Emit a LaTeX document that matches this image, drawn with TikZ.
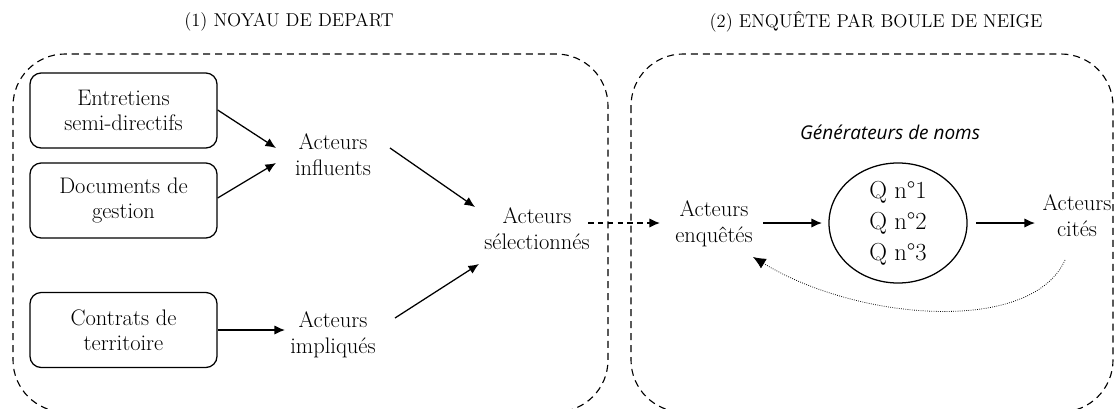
\documentclass[tikz,border=0pt]{standalone}
\usepackage{fontspec}
\newfontfamily\gensans{Open Sans}
\usetikzlibrary{arrows.meta,shapes.geometric}
\begin{document}
\begin{tikzpicture}[x=0.025cm,y=-0.025cm,
  txt/.style={align=center,inner sep=2pt,font=\fontsize{16}{18.5}\selectfont},
  srcbox/.style={draw,line width=0.9pt,rounded corners=8pt,align=center,
    minimum width=4.675cm,minimum height=1.875cm,inner sep=0pt,
    font=\fontsize{16}{17.5}\selectfont},
  arr/.style={-{Latex[length=7.5pt,width=6.5pt]},line width=0.9pt},
  frame/.style={dash pattern=on 5pt off 3.5pt,line width=0.8pt,rounded corners=1.3cm},
  title/.style={font=\fontsize{13.2}{16}\selectfont}
]
\useasboundingbox (0,0) rectangle (1115,408);
\clip (0,0) rectangle (1115,408);
% frames
\draw[frame] (13,54) rectangle (608,412);
\draw[frame] (631,54) rectangle (1113,412);
\node[title] (t1) at (289,22) {(1) NOYAU DE DEPART};
\node[title] (t2) at (876,22) {(2) ENQUÊTE PAR BOULE DE NEIGE};
% left part
\node[srcbox] (ent) at (123.5,110.5) {Entretiens\\semi-directifs};
\node[srcbox] (doc) at (123.5,200.5) {Documents de\\gestion};
\node[srcbox] (con) at (123.5,330) {Contrats de\\territoire};
\node[txt] (infl) at (333,155) {Acteurs\\influents};
\node[txt] (impl) at (333,335) {Acteurs\\impliqués};
\node[txt] (sel) at (537,229) {Acteurs\\sélectionnés};
% right part
\node[txt] (enq) at (714,224) {Acteurs\\enquêtés};
\node[draw,ellipse,line width=0.9pt,minimum width=3.45cm,minimum height=3cm,inner sep=0pt,
  align=center,font=\fontsize{17.5}{22}\selectfont] (q) at (898,223) {Q n°1\\Q n°2\\Q n°3};
\node[font=\gensans\itshape\fontsize{13.5}{16}\selectfont] (gen) at (890,132) {Générateurs de noms};
\node[txt] (cit) at (1077,216) {Acteurs\\cités};
% arrows
\coordinate (e1) at (276,148);
\coordinate (e2) at (276,163);
\draw[arr] (ent.east |- 0,110) -- (e1);
\draw[arr] (doc.east |- 0,198) -- (e2);
\draw[arr] (con.east) -- (285,330);
\draw[arr] (390,148) -- (475,207);
\draw[arr] (395,318) -- (479,264);
\draw[arr,dash pattern=on 4pt off 3pt] (588,223) -- (660,223);
\draw[arr] (763,223) -- (822,223);
\draw[arr] (976,223) -- (1035,223);
\draw[-{Latex[length=9pt,width=8pt]},densely dotted,line width=0.55pt]
  (1065,260) .. controls (1032,334) and (860,322) .. (753,257);
\end{tikzpicture}
\end{document}
